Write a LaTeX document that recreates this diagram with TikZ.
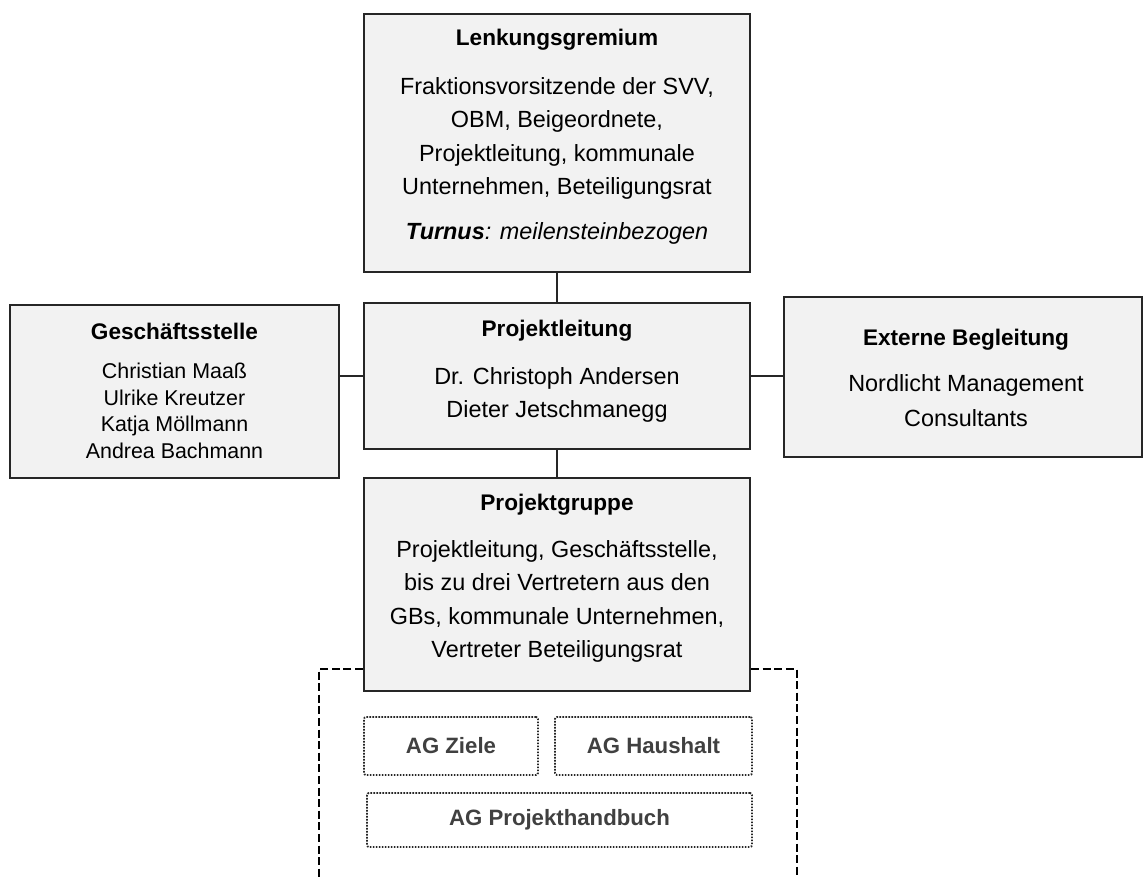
\documentclass[tikz,border=0pt]{standalone}
\usepackage{fontspec}
\setmainfont{Liberation Sans}
\definecolor{boxfill}{HTML}{F2F2F2}
\definecolor{boxline}{HTML}{262626}
\definecolor{aggray}{HTML}{404040}
\newcommand{\orgtitle}[1]{{\fontsize{11.3}{13}\selectfont\bfseries #1}}
\tikzset{
    orgbox/.style={draw=boxline, line width=1.1pt, fill=boxfill, inner sep=0pt},
    orgtext/.style={anchor=north, inner sep=0pt, align=center, text=black,
        font=\fontsize{11.7}{16.75}\selectfont},
    agbox/.style={draw=boxline, line width=0.9pt, dash pattern=on 0.8pt off 0.7pt,
        rounded corners=1pt, inner sep=0pt, text=aggray,
        font=\fontsize{11.1}{13}\selectfont\bfseries},
    link/.style={draw=boxline, line width=0.8pt},
    agframe/.style={draw=black, line width=1.4pt, dash pattern=on 4pt off 1.8pt}
}
\begin{document}
\begin{tikzpicture}[x=0.5pt, y=-0.5pt]
    \useasboundingbox (0,0) rectangle (1144,877);
    % Boxes
    \node[orgbox, minimum width=193pt, minimum height=129pt] (lg) at (557,143) {};
    \node[orgbox, minimum width=193pt, minimum height=73pt] (pl) at (557,376) {};
    \node[orgbox, minimum width=164.5pt, minimum height=86.5pt] (gs) at (174.5,391.5) {};
    \node[orgbox, minimum width=179pt, minimum height=80pt] (eb) at (963,377) {};
    \node[orgbox, minimum width=193pt, minimum height=106.5pt] (pg) at (557,584.5) {};
    % Texts
    \node[orgtext] (lgtext) at (557,29) {\orgtitle{Lenkungsgremium}\\[7.45pt]
        Fraktionsvorsitzende der SVV,\\ OBM, Beigeordnete,\\
        Projektleitung, kommunale\\ Unternehmen, Beteiligungsrat\\[5.75pt]
        \textbf{\textit{Turnus}}\textit{: meilensteinbezogen}};
    \node[orgtext] (pltext) at (557,320) {\orgtitle{Projektleitung}\\[6.95pt]
        Dr. Christoph Andersen\\ Dieter Jetschmanegg};
    \node[orgtext, font=\fontsize{10.7}{13.35}\selectfont] (gstext) at (174.5,323)
        {\orgtitle{Geschäftsstelle}\\[6pt]
        Christian Maaß\\ Ulrike Kreutzer\\ Katja Möllmann\\ Andrea Bachmann};
    \node[orgtext, font=\fontsize{11.7}{17.5}\selectfont] (ebtext) at (966,329)
        {\orgtitle{Externe Begleitung}\\[5.2pt]
        Nordlicht Management\\ Consultants};
    \node[orgtext] (pgtext) at (557,494) {\orgtitle{Projektgruppe}\\[6.45pt]
        Projektleitung, Geschäftsstelle,\\ bis zu drei Vertretern aus den\\
        GBs, kommunale Unternehmen,\\ Vertreter Beteiligungsrat};
    % Arbeitsgruppen
    \node[agbox, minimum width=87pt, minimum height=29pt] (agziele) at (451,746) {AG Ziele};
    \node[agbox, minimum width=98.5pt, minimum height=29pt] (aghaushalt) at (653.5,746) {AG Haushalt};
    \node[agbox, minimum width=192.5pt, minimum height=27pt] (aghandbuch) at (559.5,820) {AG Projekthandbuch};
    % Connectors
    \draw[link] (lg) -- (pl);
    \draw[link] (pl) -- (pg);
    \draw[link] (pl.west) -- (pl.west -| gs.east);
    \draw[link] (pl.east) -- (pl.east -| eb.west);
    % Frame round the working groups
    \coordinate (frametl) at (319,669);
    \coordinate (framebl) at (319,877);
    \coordinate (frametr) at (797,669);
    \coordinate (framebr) at (797,877);
    \draw[agframe] (pg.west |- frametl) -- (frametl) -- (framebl);
    \draw[agframe] (pg.east |- frametr) -- (frametr) -- (framebr);
\end{tikzpicture}
\end{document}
